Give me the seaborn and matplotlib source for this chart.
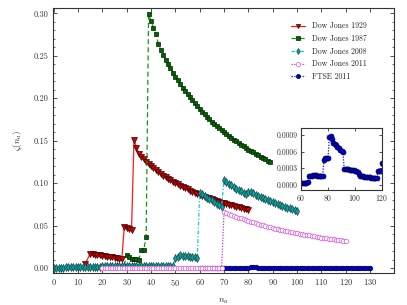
import matplotlib
matplotlib.use("Agg")
import matplotlib.pyplot as plt
import seaborn as sns
import pandas as pd

# ---------------- data ----------------
dj1929_n = [13] + list(range(15, 81))
dj1929_z = [0.0050,
            0.0172, 0.0166, 0.0160, 0.0155, 0.0150, 0.0145, 0.0140, 0.0135, 0.0131, 0.0126, 0.0122, 0.0117, 0.0112, 0.0107,
            0.0480, 0.0470, 0.0460, 0.0450,
            0.1510, 0.1420, 0.1350, 0.1310, 0.1280, 0.1250,
            0.1224, 0.1199, 0.1176, 0.1153, 0.1132, 0.1111, 0.1091, 0.1072, 0.1053, 0.1036,
            0.1018, 0.1002, 0.0986, 0.0971, 0.0956, 0.0942, 0.0928, 0.0914, 0.0902, 0.0889,
            0.0877, 0.0865, 0.0854, 0.0842, 0.0832, 0.0821, 0.0811, 0.0801, 0.0791, 0.0782,
            0.0773, 0.0764, 0.0755, 0.0747, 0.0739, 0.0730, 0.0723, 0.0715, 0.0707, 0.0700,
            0.0693, 0.0686]

dj1987_n = list(range(29, 90))
dj1987_z = [0.003, 0.016, 0.013, 0.011, 0.011, 0.011, 0.010, 0.021, 0.021, 0.037,
            0.299, 0.291, 0.283, 0.276, 0.264, 0.257,
            0.2512, 0.2456, 0.2403, 0.2352, 0.2303, 0.2256, 0.2211, 0.2167, 0.2126, 0.2085,
            0.2047, 0.2010, 0.1974, 0.1939, 0.1905, 0.1873, 0.1842, 0.1811, 0.1782, 0.1754,
            0.1726, 0.1699, 0.1674, 0.1648, 0.1624, 0.1600, 0.1577, 0.1555, 0.1533, 0.1512,
            0.1492, 0.1472, 0.1452, 0.1433, 0.1415, 0.1397, 0.1379, 0.1362, 0.1345, 0.1329,
            0.1313, 0.1297, 0.1282, 0.1267, 0.1253]

dj2008_n = list(range(0, 101))
dj2008_z = ([0.0008, 0.0008, 0.0008, 0.0008, 0.0008, 0.0009, 0.0010, 0.0015, 0.0015, 0.0016,
             0.0016, 0.0015, 0.0015, 0.0012, 0.0010, 0.0010, 0.0010, 0.0010, 0.0010, 0.0010]
            + [0.0020] * 30
            + [0.012, 0.013, 0.015, 0.0145, 0.014, 0.014, 0.0135, 0.013, 0.013, 0.012,
               0.089, 0.087, 0.085, 0.083, 0.081, 0.080, 0.078, 0.076, 0.074, 0.0725,
               0.1040, 0.1015, 0.0995, 0.0975, 0.0955, 0.0935, 0.0920, 0.0905, 0.0890, 0.0875,
               0.0900, 0.0895, 0.0880, 0.0865, 0.0850, 0.0838, 0.0826, 0.0813, 0.0801, 0.0789,
               0.0778, 0.0767, 0.0755, 0.0744, 0.0734, 0.0723, 0.0713, 0.0703, 0.0693, 0.0684,
               0.0674])

dj2011_n = list(range(20, 121))
dj2011_z = ([0.0003] * 50
            + [0.0666, 0.0653, 0.0641, 0.0629, 0.0618, 0.0607, 0.0596, 0.0585, 0.0575, 0.0565,
               0.0556, 0.0547, 0.0538, 0.0529, 0.0520, 0.0512, 0.0504, 0.0496, 0.0489, 0.0481,
               0.0474, 0.0467, 0.0460, 0.0453, 0.0447, 0.0440, 0.0434, 0.0428, 0.0422, 0.0417,
               0.0411, 0.0405, 0.0400, 0.0395, 0.0390, 0.0385, 0.0380, 0.0375, 0.0370, 0.0366,
               0.0361, 0.0357, 0.0352, 0.0348, 0.0344, 0.0340, 0.0336, 0.0332, 0.0328, 0.0325,
               0.0321])

ftse_n = list(range(60, 131))
ftse_z = [0.00002, 0.00002, 0.00002, 0.00002, 0.00003, 0.00004,
          0.00015, 0.00015, 0.00016, 0.00017, 0.00017, 0.00017, 0.00016, 0.00016, 0.00016, 0.00016, 0.00016,
          0.00044, 0.00049, 0.00049, 0.00048,
          0.00086, 0.00088, 0.00082, 0.00076, 0.00074, 0.00072, 0.00069, 0.00066, 0.00063, 0.00061, 0.00060,
          0.00028, 0.00028, 0.00028, 0.00028, 0.00027, 0.00027, 0.00026, 0.00026, 0.00025, 0.00024, 0.00022, 0.00020,
          0.00015, 0.00016, 0.00015, 0.00014, 0.00014, 0.00013, 0.00013, 0.00013, 0.00012, 0.00012, 0.00012, 0.00011, 0.00011,
          0.00025, 0.00025, 0.00025, 0.00039,
          0.00040, 0.00041, 0.00042, 0.00042, 0.00043, 0.00044, 0.00045, 0.00046, 0.00047, 0.00048]

labels = ["Dow Jones 1929", "Dow Jones 1987", "Dow Jones 2008", "Dow Jones 2011", "FTSE 2011"]
x_ticks = list(range(0, 131, 10))
y_ticks = [0.00, 0.05, 0.10, 0.15, 0.20, 0.25, 0.30]
inset_x_ticks = [60, 80, 100, 120]
inset_y_ticks = [0.0, 0.0003, 0.0006, 0.0009]

# ---------------- style ----------------
sns.set_style("ticks")
plt.rcParams.update({
    "font.family": "serif",
    "font.serif": ["cmr10", "DejaVu Serif"],
    "mathtext.fontset": "cm",
    "axes.formatter.use_mathtext": True,
    "axes.unicode_minus": False,
    "xtick.direction": "in",
    "ytick.direction": "in",
    "xtick.top": True,
    "ytick.right": True,
    "axes.edgecolor": "#333333",
    "axes.linewidth": 0.8,
})

fig = plt.figure(figsize=(4.07, 3.05), dpi=100)
ax = fig.add_axes([0.130, 0.104, 0.838, 0.869])

styles = [
    dict(color="#ff1a1a", linestyle="-", marker="v", markerfacecolor="#d00000", markeredgecolor="#3a0000"),
    dict(color="#119911", linestyle=(0, (4, 2.5)), marker="s", markerfacecolor="#006400", markeredgecolor="#002200"),
    dict(color="#10d0d0", linestyle=(0, (3, 1.5, 1, 1.5)), marker="d", markerfacecolor="#10a0a0", markeredgecolor="#104848"),
    dict(color="#cc33cc", linestyle=(0, (1, 1.2)), marker="o", markerfacecolor="white", markeredgecolor="#dd55dd"),
    dict(color="#1010ee", linestyle=(0, (1, 1.2)), marker="o", markerfacecolor="#0000cc", markeredgecolor="#000055"),
]
series = [(dj1929_n, dj1929_z), (dj1987_n, dj1987_z), (dj2008_n, dj2008_z),
          (dj2011_n, dj2011_z), (ftse_n, ftse_z)]
zorders = [2.0, 2.1, 2.2, 2.4, 2.3]
msizes = [3.7, 3.3, 3.6, 3.3, 3.3]

for (n, z), lab, st, zo, ms in zip(series, labels, styles, zorders, msizes):
    df = pd.DataFrame({"n": n, "z": z})
    sns.lineplot(data=df, x="n", y="z", ax=ax, label=lab, errorbar=None,
                 linewidth=0.9, markersize=ms, markeredgewidth=0.5, zorder=zo, **st)

ax.set_xlim(-0.3, 139.8)
ax.set_ylim(-0.006, 0.306)
ax.set_xticks(x_ticks)
ax.set_yticks(y_ticks)
ax.set_yticklabels([f"{v:.2f}" for v in y_ticks])
ax.set_yticks([i / 100 for i in range(0, 31)], minor=True)
ax.tick_params(which="major", length=3, width=0.6, labelsize=6, colors="#333333", pad=3)
ax.tick_params(which="minor", length=1.6, width=0.5, colors="#333333")
ax.set_xlabel("$n_a$", fontsize=6.5, labelpad=6)
ax.set_ylabel(r"$\zeta(n_a)$", fontsize=6.5, labelpad=7)

leg = ax.legend(loc="upper right", bbox_to_anchor=(0.94, 0.975), frameon=False,
                fontsize=5.6, handlelength=1.8, handletextpad=0.8, labelspacing=0.55)
for h in leg.legend_handles:
    h.set_markersize(3.0)

# ---------------- inset ----------------
axi = fig.add_axes([0.7396, 0.377, 0.199, 0.202])
dfi = pd.DataFrame({"n": ftse_n, "z": ftse_z})
sns.lineplot(data=dfi, x="n", y="z", ax=axi, errorbar=None, linewidth=0.9,
             markersize=3.6, markeredgewidth=0.5, **styles[4])
axi.set_xlim(60, 120)
axi.set_ylim(-0.0001, 0.00102)
axi.set_xticks(inset_x_ticks)
axi.set_yticks(inset_y_ticks)
axi.set_yticklabels([f"{v:.4f}" for v in inset_y_ticks])
axi.tick_params(which="major", length=2.5, width=0.6, labelsize=5.6, colors="#333333", pad=2.5)
axi.set_xlabel("")
axi.set_ylabel("")

fig.savefig("out.png", dpi=100)
